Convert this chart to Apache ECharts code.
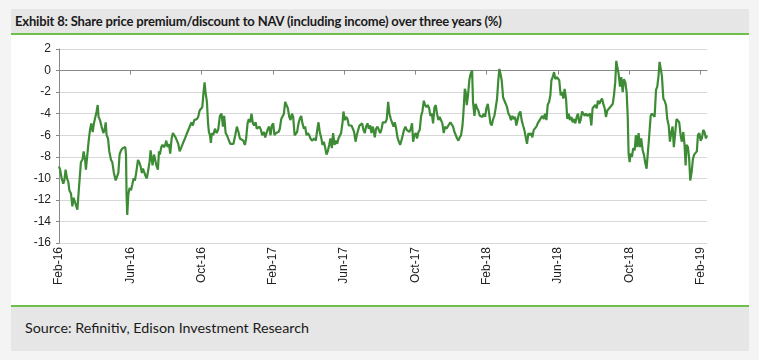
<!DOCTYPE html>
<html><head><meta charset="utf-8">
<script src="https://cdn.jsdelivr.net/npm/echarts@6/dist/echarts.min.js"></script>
<style>
html,body{margin:0;padding:0;background:#f4f4f4;width:759px;height:360px;overflow:hidden;}
#title{position:absolute;left:11px;top:9px;width:738px;height:24px;background:#e6e6e6;border-bottom:2px solid #6cc04a;box-sizing:content-box;}
#title span{position:absolute;left:4px;top:4px;font-family:Lato,"Noto Sans",sans-serif;font-size:13px;font-weight:bold;letter-spacing:-0.17px;color:#1a1a1a;white-space:nowrap;}
#chart{position:absolute;left:11px;top:35px;width:738px;height:270px;background:#fff;}
#foot{position:absolute;left:11px;top:305px;width:738px;height:44px;background:#e6e6e6;border-top:2px solid #6cc04a;}
#foot span{position:absolute;left:14px;top:12px;font-family:Lato,"Noto Sans",sans-serif;font-size:14.3px;color:#1a1a1a;white-space:nowrap;}
</style></head>
<body>
<div id="title"><span id="tt">Exhibit 8: Share price premium/discount to NAV (including income) over three years (%)</span></div>
<div id="chart"></div>
<div id="foot"><span>Source: Refinitiv, Edison Investment Research</span></div>
<script>
// x positions: months since Feb 2016
const monthPos = [
0.00,0.06,0.15,0.24,0.30,0.37,0.45,0.52,0.58,0.67,0.75,0.82,0.93,1.03,1.12,1.23,1.33,1.38,1.46,1.51,
1.59,1.66,1.74,1.81,1.89,1.96,2.04,2.11,2.17,2.22,2.30,2.39,2.49,2.56,2.62,2.67,2.75,2.82,2.92,2.99,
3.08,3.18,3.25,3.33,3.40,3.48,3.57,3.64,3.72,3.76,3.79,3.83,3.89,3.96,4.04,4.11,4.19,4.26,4.34,4.43,
4.50,4.58,4.65,4.71,4.79,4.86,4.93,5.01,5.08,5.14,5.20,5.25,5.33,5.40,5.48,5.55,5.61,5.66,5.74,5.81,
5.89,5.96,6.02,6.09,6.17,6.24,6.32,6.39,6.47,6.54,6.62,6.69,6.77,6.84,6.92,6.99,7.07,7.14,7.21,7.29,
7.36,7.44,7.51,7.59,7.66,7.74,7.81,7.89,7.96,8.04,8.11,8.17,8.22,8.30,8.36,8.41,8.47,8.52,8.58,8.65,
8.75,8.84,8.93,9.03,9.12,9.20,9.27,9.35,9.42,9.51,9.61,9.70,9.79,9.89,9.98,10.07,10.15,10.24,10.34,10.43,
10.50,10.58,10.65,10.73,10.80,10.88,10.95,11.03,11.10,11.18,11.25,11.33,11.40,11.50,11.57,11.65,11.72,11.79,11.87,11.94,
12.02,12.09,12.17,12.24,12.32,12.39,12.47,12.54,12.62,12.69,12.77,12.84,12.92,12.99,13.07,13.14,13.22,13.29,13.36,13.44,
13.51,13.59,13.66,13.74,13.81,13.89,13.96,14.04,14.11,14.19,14.26,14.34,14.41,14.49,14.56,14.64,14.71,14.79,14.86,14.93,
15.01,15.08,15.16,15.23,15.31,15.38,15.46,15.53,15.61,15.68,15.76,15.83,15.91,15.96,16.04,16.11,16.19,16.26,16.34,16.41,
16.49,16.56,16.64,16.71,16.79,16.86,16.93,17.01,17.08,17.16,17.23,17.31,17.38,17.46,17.53,17.61,17.68,
17.72,17.79,17.87,17.94,18.02,18.09,18.17,18.24,18.32,18.39,18.47,18.54,18.62,18.69,18.77,18.84,18.92,18.99,19.07,19.14,
19.21,19.29,19.36,19.44,19.51,19.59,19.66,19.74,19.81,19.87,19.94,20.02,20.09,20.17,20.24,20.32,20.39,20.47,20.54,20.62,
20.69,20.77,20.84,20.92,20.99,21.07,21.14,21.21,21.29,21.36,21.44,21.51,21.59,21.66,21.74,21.81,21.89,21.96,22.04,22.11,
22.19,22.26,22.34,22.41,22.49,22.56,22.64,22.69,22.77,22.82,22.88,22.95,23.03,23.10,23.18,23.23,23.31,23.38,23.46,23.53,
23.61,23.68,23.76,23.83,23.91,23.98,24.06,24.13,24.21,24.28,24.36,24.43,24.50,24.58,24.65,24.71,24.77,24.84,24.92,24.99,
25.07,25.14,25.22,25.29,25.36,25.44,25.51,25.59,25.66,25.74,25.81,25.89,25.96,26.04,26.11,26.19,26.26,26.34,26.41,26.49,
26.56,26.64,26.71,26.79,26.86,
26.97,27.05,27.12,27.20,27.27,27.35,27.42,27.50,27.57,27.63,27.70,27.78,27.85,27.93,28.00,28.07,28.15,28.22,28.30,28.37,
28.45,28.52,28.60,28.67,28.75,28.82,28.90,28.97,29.05,29.12,29.20,29.27,29.35,29.42,29.50,29.57,29.65,29.72,29.79,29.87,
29.94,30.02,30.09,30.17,30.24,30.32,30.39,30.47,30.54,30.62,30.69,30.77,30.84,30.92,30.99,31.07,31.14,31.21,31.27,31.33,
31.40,31.48,31.55,31.63,31.70,31.78,31.85,31.91,31.96,32.02,32.07,32.15,32.22,32.30,32.37,32.45,32.52,32.60,32.67,32.75,
32.82,32.90,32.97,33.05,33.12,33.20,33.27,33.35,33.42,33.50,33.57,33.64,33.70,33.78,33.83,33.91,33.98,34.06,34.13,34.21,
34.28,34.36,34.43,34.50,34.58,34.65,34.73,34.80,34.88,34.95,35.03,35.10,35.16,35.21,35.29,35.36,35.42,35.50,35.57,35.64,
35.72,35.79,35.85,35.93,36.00,36.07,36.15,36.22,36.30,36.36
];
// premium/discount to NAV (%)
const premium = [
-8.9,-9.2,-10.0,-10.5,-10.2,-9.2,-10.0,-10.3,-11.1,-11.4,-12.6,-11.8,-11.8,-12.9,-10.9,-8.5,-8.2,-7.5,-8.2,-9.2,
-7.8,-6.6,-5.5,-4.9,-5.7,-4.9,-4.8,-3.8,-3.2,-4.3,-4.6,-5.2,-5.8,-5.5,-4.8,-6.0,-6.3,-7.5,-8.3,-8.5,
-9.5,-10.2,-10.2,-9.5,-7.8,-7.4,-7.2,-7.2,-7.1,-7.8,-11.5,-13.4,-11.5,-10.9,-11.1,-10.6,-10.0,-10.2,-9.4,-8.3,
-8.5,-8.9,-9.5,-9.1,-9.1,-9.8,-10.0,-9.2,-8.5,-7.4,-8.2,-8.8,-7.8,-8.3,-8.9,-9.2,-7.5,-7.8,-7.1,-6.9,
-7.1,-6.9,-6.5,-7.1,-6.8,-7.7,-6.3,-5.8,-5.7,-6.2,-6.3,-6.8,-7.5,-7.4,-6.9,-6.6,-6.3,-6.0,-5.7,-5.8,
-5.1,-4.8,-5.1,-4.6,-4.6,-4.5,-4.3,-3.7,-3.7,-3.4,-2.0,-1.1,-2.0,-2.9,-4.8,-5.7,-6.0,-6.7,-5.8,-6.0,
-5.4,-5.8,-5.5,-4.2,-4.0,-5.2,-4.2,-5.8,-6.0,-6.0,-6.8,-6.9,-6.8,-6.0,-5.2,-5.7,-6.3,-6.3,-6.5,-6.9,
-6.3,-4.9,-4.5,-4.8,-4.0,-4.9,-5.1,-4.8,-5.4,-5.5,-5.2,-5.5,-6.0,-5.7,-6.2,-6.2,-5.4,-5.2,-6.0,-5.1,
-4.9,-6.0,-5.8,-5.8,-5.7,-5.4,-4.5,-4.6,-4.0,-2.9,-2.9,-3.5,-4.3,-4.6,-4.0,-4.3,-6.0,-6.0,-5.7,-4.9,
-4.5,-4.2,-4.9,-5.4,-5.2,-6.0,-5.8,-6.0,-6.3,-6.5,-6.5,-6.3,-6.5,-5.5,-4.8,-5.8,-6.2,-6.9,-6.6,-7.1,
-7.8,-7.5,-6.9,-6.3,-7.2,-5.8,-6.9,-6.5,-6.8,-6.3,-6.2,-5.8,-4.8,-3.8,-4.6,-4.3,-4.5,-5.1,-5.2,-5.1,
-5.4,-5.7,-6.6,-6.0,-5.5,-5.1,-5.2,-4.9,-5.5,-5.8,-5.2,-4.9,-5.4,-5.1,-5.8,-5.2,-5.8,
-6.2,-5.4,-5.2,-5.1,-5.8,-5.5,-4.8,-4.9,-4.8,-4.5,-2.9,-4.0,-4.5,-4.6,-5.2,-4.8,-5.4,-6.2,-6.6,-6.9,
-6.5,-6.0,-5.5,-5.2,-5.5,-5.5,-5.7,-5.4,-4.9,-6.6,-6.0,-5.8,-6.3,-5.7,-5.5,-4.2,-3.8,-2.8,-3.2,-3.4,
-3.2,-3.5,-4.2,-4.0,-4.9,-3.4,-3.2,-4.0,-4.6,-4.3,-4.2,-4.9,-5.8,-5.2,-5.4,-5.2,-5.2,-4.8,-4.8,-5.2,
-5.7,-5.8,-6.3,-6.5,-6.2,-6.0,-5.1,-4.0,-1.7,-2.0,-3.2,-2.3,-0.8,-0.3,0.0,-2.9,-4.2,-3.1,-3.5,-3.7,
-4.2,-4.2,-4.3,-4.0,-4.3,-3.5,-3.1,-3.2,-4.9,-5.1,-4.5,-4.2,-3.5,-2.6,-0.9,0.15,-0.3,-0.9,-2.5,-2.6,
-3.1,-3.4,-4.0,-4.2,-4.6,-4.2,-4.5,-4.3,-5.1,-5.2,-4.0,-3.8,-4.6,-5.1,-5.5,-5.4,-6.8,-5.8,-6.0,-5.8,
-6.2,-5.5,-5.4,-5.2,-4.9,
-4.6,-4.5,-4.2,-4.5,-4.0,-4.6,-3.2,-2.9,-2.3,-0.9,-0.6,-0.15,-0.8,-0.6,-0.6,-0.9,-2.3,-2.0,-2.6,-1.7,
-2.6,-4.5,-4.0,-4.6,-4.3,-4.8,-4.5,-4.9,-4.3,-4.0,-4.9,-4.6,-3.8,-3.7,-4.2,-4.0,-4.2,-4.3,-4.0,-5.1,
-3.5,-3.5,-3.2,-3.5,-2.8,-3.1,-2.8,-2.6,-3.1,-3.5,-4.3,-3.7,-3.8,-3.4,-3.4,-3.1,-2.3,-1.1,0.9,0.3,
-0.3,-1.5,-0.6,-2.0,-0.8,-1.1,-2.0,-4.2,-7.7,-8.5,-7.7,-8.0,-7.2,-7.4,-6.0,-7.1,-5.8,-7.1,-6.3,-7.4,
-7.8,-8.6,-9.1,-9.1,-6.0,-4.2,-4.0,-4.0,-4.3,-1.8,-1.5,-0.5,0.8,0.9,-0.5,-2.6,-2.8,-3.2,-4.5,-5.1,
-6.6,-5.7,-5.2,-7.1,-7.2,-4.5,-4.6,-4.8,-6.0,-6.6,-5.7,-6.9,-8.8,-6.9,-7.1,-8.2,-10.2,-9.4,-8.2,-7.8,
-7.7,-7.5,-6.0,-5.8,-6.5,-6.3,-5.5,-5.7,-6.3,-6.0
];
const tickLabels = ['Feb-16','Jun-16','Oct-16','Feb-17','Jun-17','Oct-17','Feb-18','Jun-18','Oct-18','Feb-19'];
const yMin = -16, yMax = 2, yStep = 2;

const pts = monthPos.map((m, i) => [m, premium[i]]);
const chart = echarts.init(document.getElementById('chart'), null, {renderer: 'canvas'});
const lab = {fontFamily: 'Liberation Sans, Arial, sans-serif', fontSize: 12, color: '#222'};
chart.setOption({
  animation: false,
  backgroundColor: '#fff',
  grid: {left: 48, right: 42, top: 14, bottom: 62},
  xAxis: {
    type: 'value', min: 0, max: monthPos[monthPos.length - 1], interval: 4,
    splitLine: {show: false},
    axisLine: {lineStyle: {color: '#888', width: 1}},
    axisTick: {show: true, length: 4, lineStyle: {color: '#888'}},
    axisLabel: Object.assign({rotate: 90, margin: 4, showMaxLabel: false,
      formatter: v => (v % 4 === 0 ? (tickLabels[v / 4] || '') : '')}, lab)
  },
  yAxis: {
    type: 'value', min: yMin, max: yMax, interval: yStep,
    splitLine: {lineStyle: {color: '#d8d8d8', width: 1}},
    axisLine: {show: true, lineStyle: {color: '#888', width: 1}},
    axisTick: {show: true, length: 3, lineStyle: {color: '#888'}},
    axisLabel: Object.assign({margin: 8}, lab)
  },
  series: [{
    type: 'line', data: pts, showSymbol: false, symbol: 'none',
    lineStyle: {color: '#3d8c35', width: 2.2}, z: 3
  }]
});
</script>
</body></html>
